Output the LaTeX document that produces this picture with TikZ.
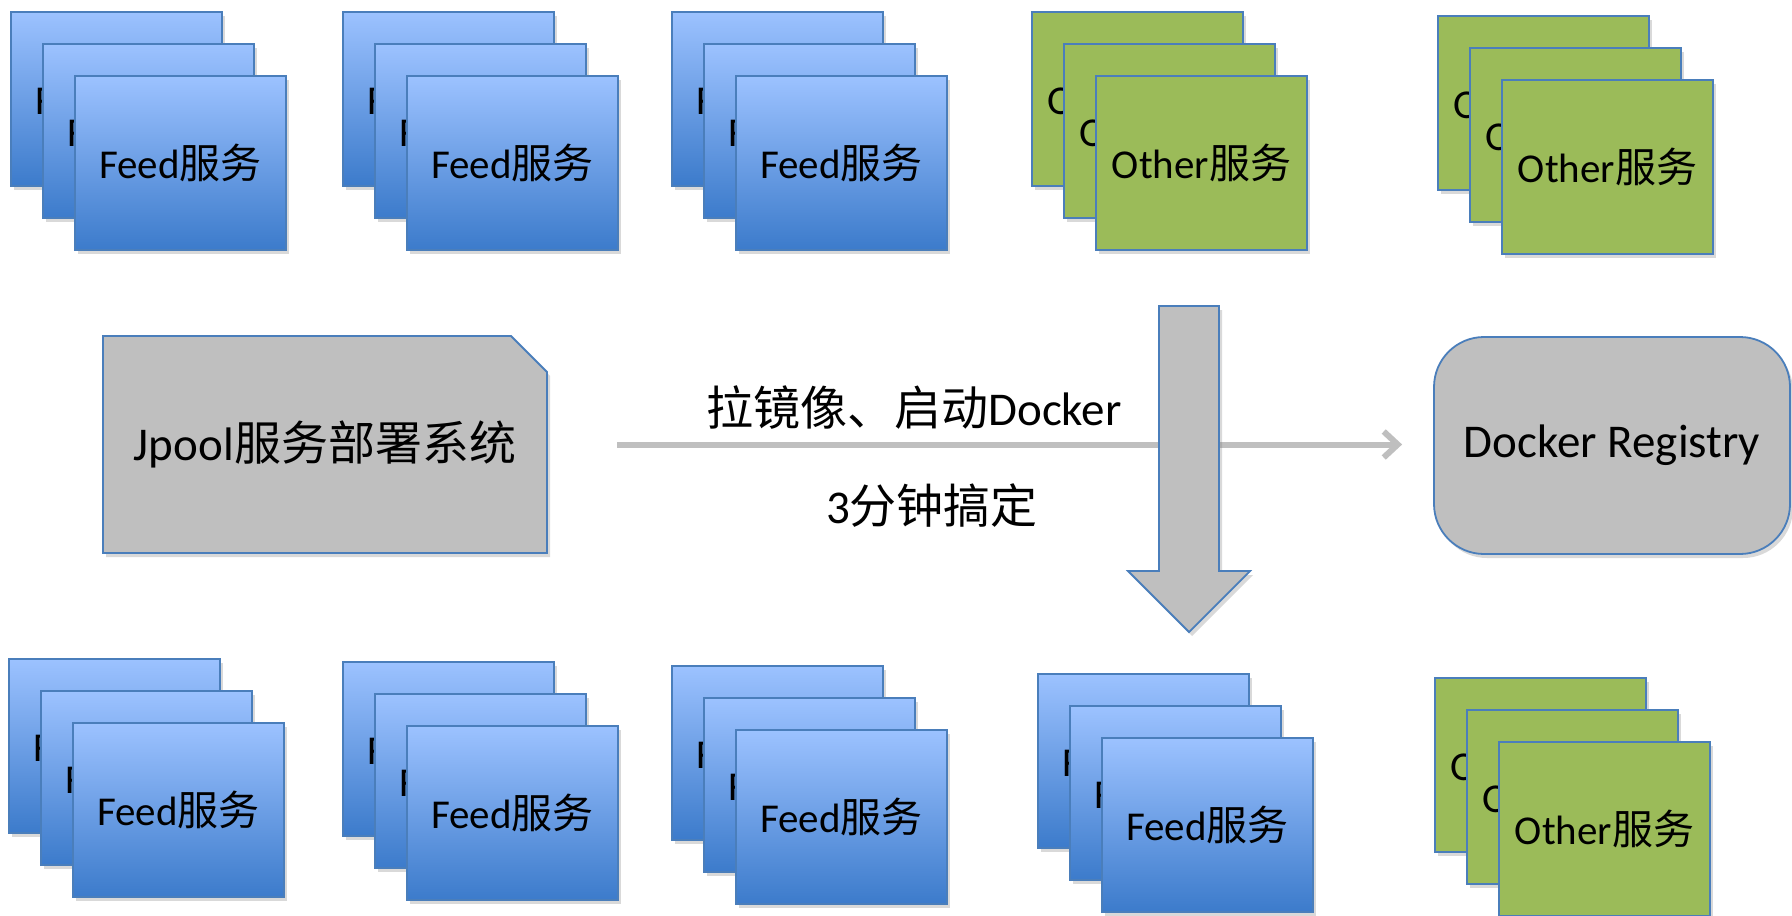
\documentclass[tikz,border=0pt]{standalone}
\usepackage{fontspec}
\setmainfont{Carlito}
\newfontfamily\cjk{Noto Sans CJK SC}
\usetikzlibrary{shadows,arrows.meta}
\definecolor{bordblue}{HTML}{4A7EBB}
\definecolor{bluetop}{HTML}{9CC2FF}
\definecolor{bluebot}{HTML}{3C7BCB}
\definecolor{olivegreen}{HTML}{9BBB59}
\definecolor{boxgray}{HTML}{BFBFBF}
\tikzset{
  shad/.style={drop shadow={opacity=0.3, shadow xshift=1.5pt, shadow yshift=-2pt}},
  card/.style={minimum width=105.5pt, minimum height=87pt, inner sep=0pt,
    draw=bordblue, line width=0.9pt, shad,
    font=\fontsize{20.5}{24}\selectfont},
  feedcard/.style={card, top color=bluetop, bottom color=bluebot},
  othercard/.style={card, fill=olivegreen},
  midfont/.style={font=\fontsize{23.5}{28}\selectfont, inner sep=0pt},
  graybox/.style={fill=boxgray, draw=bordblue, line width=0.9pt, shad},
  harrow/.style={draw=boxgray, line width=3pt, -{Straight Barb[length=7pt,width=13pt]}},
}
\newcommand\cardstack[5]{%
  \foreach \k in {0,1,2}{%
    \node[#4] (#1-\k) at ({#2+105.5+32*\k},{#3+87+32*\k}) {#5};
  }%
}
\begin{document}
\begin{tikzpicture}[x=0.5pt,y=-0.5pt]
\useasboundingbox (0,0) rectangle (1792,915);
% top row
\cardstack{t1}{11}{12}{feedcard}{Feed{\cjk 服务}}
\cardstack{t2}{343}{12}{feedcard}{Feed{\cjk 服务}}
\cardstack{t3}{672}{12}{feedcard}{Feed{\cjk 服务}}
\cardstack{t4}{1032}{12}{othercard}{Other{\cjk 服务}}
\cardstack{t5}{1438}{16}{othercard}{Other{\cjk 服务}}
% bottom row
\cardstack{b1}{9}{659}{feedcard}{Feed{\cjk 服务}}
\cardstack{b2}{343}{662}{feedcard}{Feed{\cjk 服务}}
\cardstack{b3}{672}{666}{feedcard}{Feed{\cjk 服务}}
\cardstack{b4}{1038}{674}{feedcard}{Feed{\cjk 服务}}
\cardstack{b5}{1435}{678}{othercard}{Other{\cjk 服务}}
% Jpool box
\path[graybox] (103,336) -- (511,336) -- (547,372) -- (547,553) -- (103,553) -- cycle;
\node[midfont, minimum width=222pt, minimum height=108.5pt] (jpool) at (325,444.5) {Jpool{\cjk 服务部署系统}};
% Docker Registry
\node[graybox, midfont, rounded corners=25pt, minimum width=178pt, minimum height=108.5pt] (reg) at (1612,445.5) {Docker Registry};
% horizontal arrow
\draw[harrow, shorten <=35pt, shorten >=15.5pt] (jpool.east) -- (jpool.east -| reg.west);
\node[midfont] (lbl1) at (914,408) {{\cjk 拉镜像、启动}Docker};
\node[midfont] (lbl2) at (932,506) {3{\cjk 分钟搞定}};
% block arrow
\path[graybox] (1159,306) -- (1219,306) -- (1219,571) -- (1250,571) -- (1189,632) -- (1128,571) -- (1159,571) -- cycle;
\end{tikzpicture}
\end{document}
